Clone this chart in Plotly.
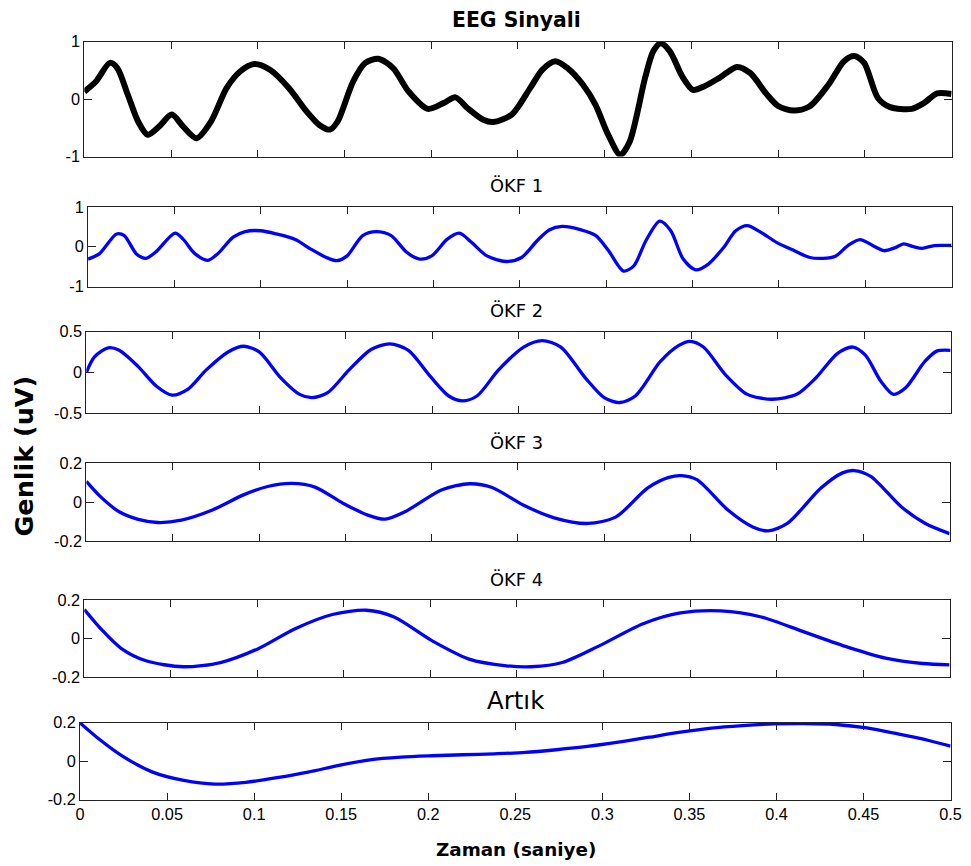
import plotly.graph_objects as go

# The photographed page shows the figure offset by the 8px body margin and scaled
# by about 0.98; window pixel -> figure pixel conversion compensates for it.
OFF = 8
S = 0.981
W, H = 971, 866

# ---------------- data ----------------
eeg_t = [0, 0.0068, 0.0147, 0.019, 0.025, 0.031, 0.0365, 0.043, 0.0504, 0.057, 0.0647, 0.073,
         0.082, 0.0898, 0.098, 0.107, 0.118, 0.128, 0.1355, 0.1416, 0.146, 0.155, 0.162, 0.1695,
         0.178, 0.187, 0.198, 0.207, 0.214, 0.221, 0.230, 0.2357, 0.2464, 0.257, 0.264, 0.2715,
         0.2786, 0.2875, 0.2947, 0.302, 0.309, 0.3144, 0.3233, 0.328, 0.3323, 0.3376, 0.3448,
         0.3509, 0.3573, 0.3662, 0.3763, 0.384, 0.393, 0.400, 0.409, 0.418, 0.429, 0.438, 0.444,
         0.4496, 0.4575, 0.4646, 0.477, 0.484, 0.4917, 0.5]
eeg_v = [0.13, 0.31, 0.63, 0.54, 0.08, -0.39, -0.62, -0.48, -0.27, -0.48, -0.68, -0.39,
         0.19, 0.48, 0.61, 0.51, 0.19, -0.21, -0.45, -0.53, -0.39, 0.31, 0.63, 0.70,
         0.54, 0.13, -0.17, -0.07, 0.03, -0.16, -0.36, -0.40, -0.27, 0.19, 0.51, 0.66,
         0.54, 0.25, -0.10, -0.62, -0.97, -0.74, 0.37, 0.83, 0.97, 0.83, 0.39,
         0.16, 0.22, 0.37, 0.56, 0.45, 0.10, -0.12, -0.20, -0.13, 0.25, 0.66, 0.75,
         0.63, 0.02, -0.14, -0.17, -0.07, 0.10, 0.09]

okf1_t = [0, 0.0065, 0.0165, 0.021, 0.028, 0.0335, 0.039, 0.0504, 0.055, 0.062, 0.0694, 0.075,
          0.084, 0.091, 0.100, 0.109, 0.120, 0.129, 0.138, 0.144, 0.150, 0.159, 0.167, 0.1755,
          0.1845, 0.192, 0.199, 0.208, 0.215, 0.222, 0.231, 0.242, 0.251, 0.260, 0.267, 0.2745,
          0.285, 0.294, 0.3014, 0.310, 0.316, 0.323, 0.331, 0.3374, 0.3446, 0.3518, 0.359, 0.368,
          0.375, 0.3817, 0.3896, 0.3986, 0.409, 0.418, 0.4255, 0.433, 0.44, 0.447, 0.4543, 0.4608,
          0.467, 0.4723, 0.478, 0.483, 0.490, 0.5]
okf1_v = [-0.31, -0.18, 0.32, 0.28, -0.18, -0.29, -0.14, 0.34, 0.19, -0.18, -0.34, -0.18,
          0.24, 0.38, 0.40, 0.32, 0.18, -0.06, -0.27, -0.35, -0.23, 0.28, 0.38, 0.28,
          -0.14, -0.31, -0.23, 0.19, 0.34, 0.11, -0.23, -0.37, -0.27, 0.15, 0.42, 0.51,
          0.43, 0.28, -0.10, -0.61, -0.48, 0.15, 0.64, 0.40, -0.31, -0.58, -0.44, -0.02,
          0.40, 0.53, 0.36, 0.11, -0.10, -0.27, -0.29, -0.23, 0.03, 0.18, 0.03, -0.10,
          -0.03, 0.07, 0.0, -0.04, 0.03, 0.03]

okf2_t = [0, 0.0047, 0.0126, 0.019, 0.030, 0.0406, 0.0496, 0.0586, 0.0694, 0.082, 0.091, 0.100,
          0.1126, 0.1234, 0.1306, 0.1396, 0.152, 0.1647, 0.1755, 0.1863, 0.199, 0.2097, 0.2176,
          0.226, 0.2385, 0.253, 0.2637, 0.2745, 0.2888, 0.2996, 0.3086, 0.3176, 0.332, 0.3428,
          0.3493, 0.357, 0.3698, 0.3824, 0.3968, 0.411, 0.422, 0.4345, 0.4435, 0.4507, 0.4597,
          0.467, 0.474, 0.485, 0.492, 0.5]
okf2_v = [0.0, 0.19, 0.30, 0.27, 0.07, -0.17, -0.28, -0.21, 0.03, 0.25, 0.32, 0.25,
          -0.07, -0.27, -0.31, -0.25, 0.03, 0.28, 0.35, 0.27, -0.05, -0.29, -0.35,
          -0.29, 0.03, 0.31, 0.39, 0.31, -0.07, -0.31, -0.37, -0.29, 0.13, 0.33,
          0.38, 0.31, -0.03, -0.27, -0.33, -0.27, -0.07, 0.23, 0.31, 0.21, -0.11,
          -0.27, -0.19, 0.13, 0.26, 0.27]

okf3_t = [0, 0.008, 0.019, 0.030, 0.0414, 0.055, 0.073, 0.091, 0.105, 0.119, 0.1324, 0.1486,
          0.163, 0.173, 0.1845, 0.206, 0.222, 0.235, 0.253, 0.271, 0.2906, 0.3068, 0.325, 0.3374,
          0.3446, 0.3536, 0.3716, 0.386, 0.395, 0.406, 0.4255, 0.438, 0.4446, 0.4543, 0.472,
          0.486, 0.5]
okf3_v = [0.107, 0.03, -0.049, -0.088, -0.104, -0.092, -0.04, 0.038, 0.081, 0.097, 0.078, -0.005,
          -0.066, -0.087, -0.049, 0.064, 0.095, 0.076, -0.014, -0.08, -0.109, -0.075, 0.073, 0.128,
          0.137, 0.116, -0.04, -0.127, -0.147, -0.109, 0.073, 0.151, 0.163, 0.133, -0.023,
          -0.109, -0.161]

okf4_t = [0, 0.0104, 0.0212, 0.0356, 0.0571, 0.0787, 0.1002, 0.1218, 0.1433, 0.163, 0.179,
          0.2008, 0.2223, 0.2439, 0.2583, 0.2762, 0.2978, 0.3229, 0.3445, 0.3678, 0.3912, 0.4163,
          0.4415, 0.463, 0.4845, 0.5]
okf4_v = [0.151, 0.042, -0.051, -0.116, -0.147, -0.125, -0.054, 0.051, 0.125, 0.147, 0.112,
          -0.011, -0.107, -0.142, -0.147, -0.125, -0.037, 0.077, 0.133, 0.144, 0.112, 0.033,
          -0.046, -0.102, -0.13, -0.137]

res_t = [0, 0.0096, 0.0239, 0.0417, 0.0596, 0.0774, 0.0952, 0.1131, 0.131, 0.1487, 0.1665,
         0.1844, 0.2022, 0.22, 0.2379, 0.2557, 0.2735, 0.2914, 0.3092, 0.327, 0.3449, 0.3627,
         0.3805, 0.3984, 0.4162, 0.434, 0.4519, 0.4697, 0.4875, 0.5]
res_v = [0.198, 0.124, 0.029, -0.057, -0.1, -0.119, -0.11, -0.086, -0.057, -0.022, 0.007,
         0.021, 0.028, 0.033, 0.038, 0.045, 0.059, 0.076, 0.098, 0.124, 0.15, 0.171,
         0.184, 0.193, 0.195, 0.19, 0.172, 0.141, 0.107, 0.078]

titles = ["EEG Sinyali", "ÖKF 1", "ÖKF 2", "ÖKF 3", "ÖKF 4", "Artık"]
y_ticks = [[-1, 0, 1], [-1, 0, 1], [-0.5, 0, 0.5], [-0.2, 0, 0.2], [-0.2, 0, 0.2], [-0.2, 0, 0.2]]
y_ticktext = [["-1", "0", "1"], ["-1", "0", "1"], ["-0.5", "0", "0.5"],
              ["-0.2", "0", "0.2"], ["-0.2", "0", "0.2"], ["-0.2", "0", "0.2"]]
x_ticks = [0, 0.05, 0.1, 0.15, 0.2, 0.25, 0.3, 0.35, 0.4, 0.45, 0.5]
x_ticktext = ["0", "0.05", "0.1", "0.15", "0.2", "0.25", "0.3", "0.35", "0.4", "0.45", "0.5"]
x_label = "Zaman (saniye)"
y_label = "Genlik (uV)"

series = [(eeg_t, eeg_v), (okf1_t, okf1_v), (okf2_t, okf2_v),
          (okf3_t, okf3_v), (okf4_t, okf4_v), (res_t, res_v)]

# ---------------- layout (pixel boxes of each panel, in window pixels) ----------------
boxes = [(87, 952, 40.5, 155.7), (90.7, 952, 206, 286), (89, 951, 331, 412.7),
         (89, 950, 463, 541), (87, 950, 600, 677), (82.7, 951, 722.7, 800)]
title_y = [18.5, 185, 310, 442, 579, 701]
title_size = [20, 17.5, 17.5, 17.5, 17.5, 24]
title_bold = [True, False, False, False, False, False]
colors = ["black", "blue", "blue", "blue", "blue", "blue"]
widths = [6, 3.3, 3.3, 3.3, 3.3, 3.3]


def px(x):
    return (x / S - OFF) / W


def py(y):
    return 1 - (y / S - OFF) / H


def fs(size):
    return size / S


TICKFONT = "Liberation Sans, Arial, sans-serif"
TITLEFONT = "DejaVu Sans, Verdana, sans-serif"
fig = go.Figure()
layout = dict(width=W, height=H, margin=dict(l=0, r=0, t=0, b=0),
              paper_bgcolor="white", plot_bgcolor="white", showlegend=False,
              font=dict(family=TICKFONT, size=fs(16), color="black"))
annotations = []
axcol = "#222222"

for i, ((t, v), (x0, x1, y0, y1)) in enumerate(zip(series, boxes)):
    n = "" if i == 0 else str(i + 1)
    fig.add_trace(go.Scatter(x=t, y=v, mode="lines", xaxis="x" + n, yaxis="y" + n,
                             line=dict(color=colors[i], width=widths[i], shape="spline",
                                       smoothing=0.8), hoverinfo="skip"))
    yr = y_ticks[i]
    layout["xaxis" + n] = dict(domain=[px(x0), px(x1)], anchor="y" + n, range=[0, 0.5],
                               tickvals=x_ticks, ticktext=x_ticktext,
                               showticklabels=(i == 5), ticks="inside", ticklen=7,
                               tickcolor=axcol, mirror="ticks", showline=True,
                               linecolor=axcol, linewidth=1, showgrid=False, zeroline=False,
                               ticklabeloverflow="allow", tickfont=dict(size=fs(16)))
    layout["yaxis" + n] = dict(domain=[py(y1), py(y0)], anchor="x" + n,
                               range=[yr[0], yr[-1]], tickvals=yr, ticktext=y_ticktext[i],
                               ticks="inside", ticklen=8, tickcolor=axcol, mirror="ticks",
                               showline=True, linecolor=axcol, linewidth=1, showgrid=False,
                               zeroline=False, tickfont=dict(size=fs(16)))
    txt = "<b>%s</b>" % titles[i] if title_bold[i] else titles[i]
    annotations.append(dict(text=txt, x=px(518), y=py(title_y[i]), xref="paper",
                            yref="paper", showarrow=False, xanchor="center", yanchor="middle",
                            font=dict(size=fs(title_size[i]), family=TITLEFONT)))

annotations.append(dict(text="<b>%s</b>" % x_label, x=px(518), y=py(850), xref="paper",
                        yref="paper", showarrow=False, xanchor="center", yanchor="middle",
                        font=dict(size=fs(18), family=TITLEFONT)))
annotations.append(dict(text="<b>%s</b>" % y_label, x=px(27), y=py(456), xref="paper",
                        yref="paper", showarrow=False, xanchor="center", yanchor="middle",
                        textangle=-90, font=dict(size=fs(25), family=TITLEFONT)))
layout["annotations"] = annotations
fig.update_layout(**layout)
fig.write_html("out.html")
